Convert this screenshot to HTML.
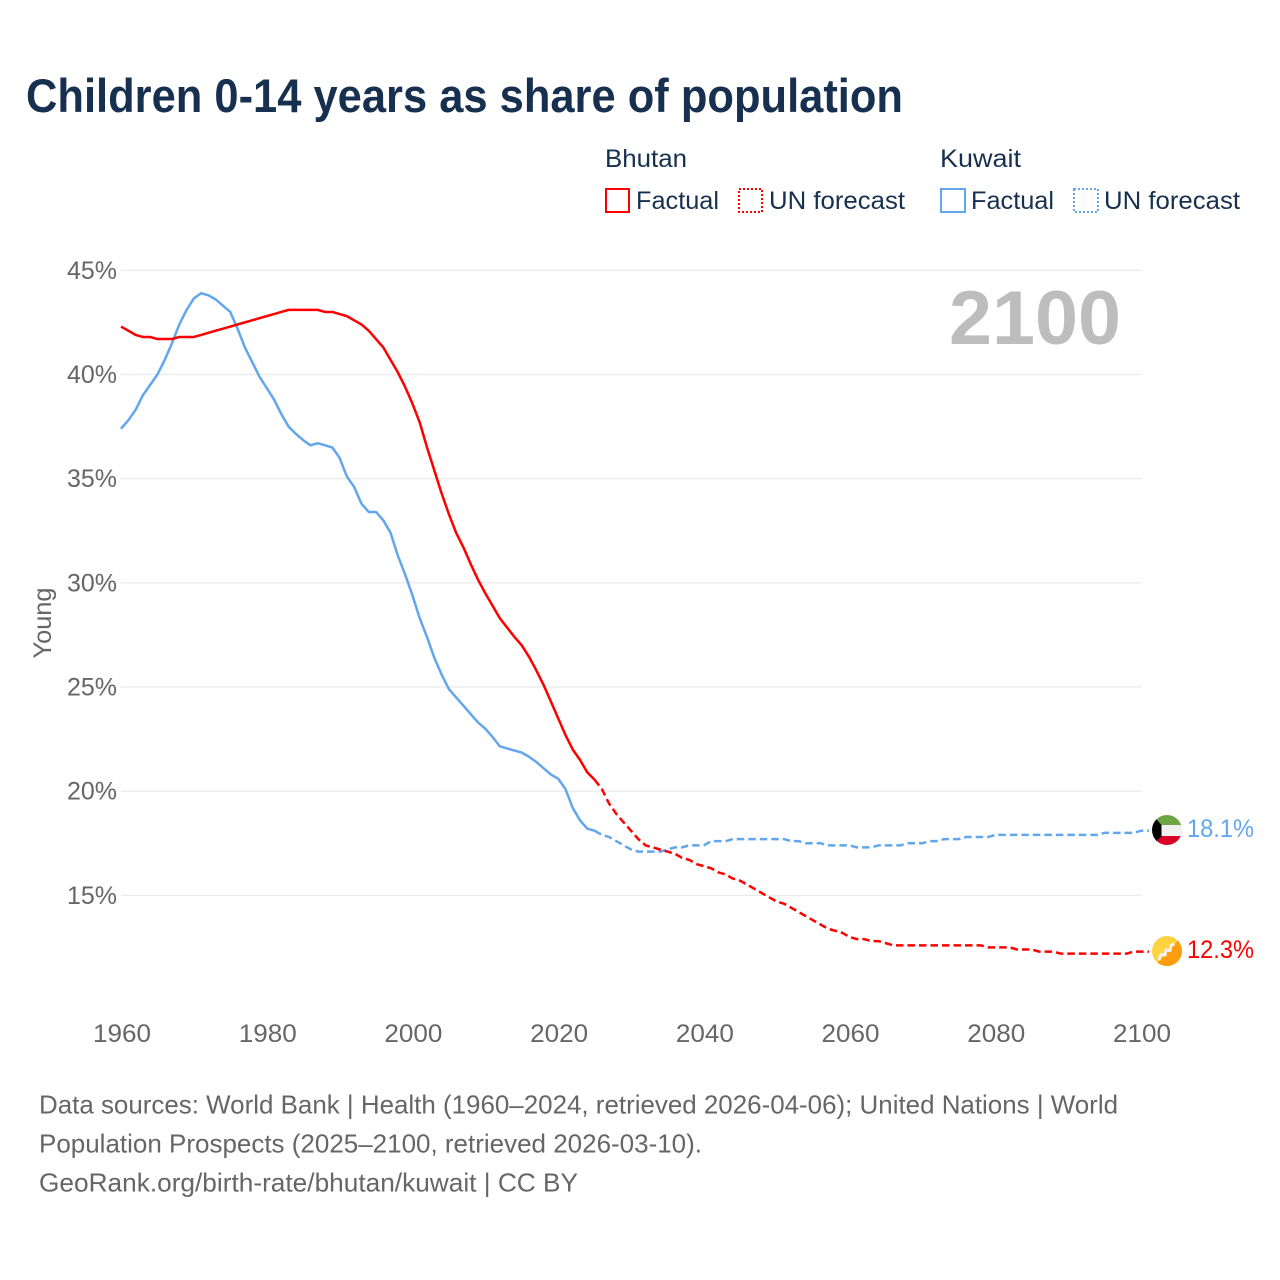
<!DOCTYPE html>
<html>
<head>
<meta charset="utf-8">
<title>Children 0-14 years as share of population</title>
<style>
html,body{margin:0;padding:0;background:#fff;width:1280px;height:1280px;overflow:hidden}
svg{display:block}
text{font-family:"Liberation Sans",sans-serif}
.leg{font-size:25px;fill:#17304f}
.tick{font-size:25px;fill:#666}
.foot{font-size:26px;fill:#666}
</style>
</head>
<body>
<svg id="chart" width="1280" height="1280" viewBox="0 0 1280 1280" xmlns="http://www.w3.org/2000/svg">
  <text x="26" y="112" font-size="47" font-weight="700" fill="#17304f" textLength="877" lengthAdjust="spacingAndGlyphs">Children 0-14 years as share of population</text>

  <g>
    <text class="leg" x="605" y="167" textLength="82" lengthAdjust="spacingAndGlyphs">Bhutan</text>
    <rect x="606" y="189" width="23" height="23" fill="none" stroke="#ff0000" stroke-width="2"/>
    <text class="leg" x="636" y="209" textLength="83" lengthAdjust="spacingAndGlyphs">Factual</text>
    <rect x="739" y="189" width="23" height="23" fill="none" stroke="#ff0000" stroke-width="2" stroke-dasharray="2 2"/>
    <text class="leg" x="769" y="209" textLength="136" lengthAdjust="spacingAndGlyphs">UN forecast</text>

    <text class="leg" x="940" y="167" textLength="81" lengthAdjust="spacingAndGlyphs">Kuwait</text>
    <rect x="941" y="189" width="24" height="23" fill="none" stroke="#62a6ee" stroke-width="2"/>
    <text class="leg" x="971" y="209" textLength="83" lengthAdjust="spacingAndGlyphs">Factual</text>
    <rect x="1074" y="189" width="24" height="23" fill="none" stroke="#62a6ee" stroke-width="2" stroke-dasharray="2 2"/>
    <text class="leg" x="1104" y="209" textLength="136" lengthAdjust="spacingAndGlyphs">UN forecast</text>
  </g>

  <g id="grid"></g>
  <g id="yticks"></g>
  <g id="xticks"></g>

  <text x="0" y="0" transform="translate(51 623) rotate(-90)" text-anchor="middle" font-size="25" fill="#666" textLength="71" lengthAdjust="spacingAndGlyphs">Young</text>
  <text x="949" y="344" font-size="76" font-weight="700" fill="#bdbdbd" textLength="172" lengthAdjust="spacingAndGlyphs">2100</text>

  <g id="series"></g>

  <defs>
    <clipPath id="clip-kw"><circle cx="1167" cy="830" r="15"/></clipPath>
    <clipPath id="clip-bt"><circle cx="1167" cy="951" r="15"/></clipPath>
  </defs>
  <g clip-path="url(#clip-kw)">
    <rect x="1150" y="813" width="34" height="12" fill="#6da544"/>
    <rect x="1150" y="825" width="34" height="11" fill="#f0f0f0"/>
    <rect x="1150" y="836" width="34" height="11" fill="#d80027"/>
    <polygon points="1150,812 1161.5,825 1161.5,836 1150,848" fill="#000"/>
  </g>
  <g clip-path="url(#clip-bt)">
    <rect x="1150" y="934" width="34" height="34" fill="#ffd23f"/>
    <polygon points="1184,934 1184,968 1150,968 1150,966 1158,962" fill="#ff9d11"/>
    <polyline points="1159,960 1161,954.5 1165,955 1166,950 1170,950.5 1171,945.5 1174.5,944" fill="none" stroke="#f0f0f0" stroke-width="3"/>
  </g>

  <text x="1187" y="837" font-size="25" fill="#62a6ee" textLength="67" lengthAdjust="spacingAndGlyphs">18.1%</text>
  <text x="1187" y="958" font-size="25" fill="#ff0000" textLength="67" lengthAdjust="spacingAndGlyphs">12.3%</text>

  <g>
    <text class="foot" x="39" y="1113.5" textLength="1079" lengthAdjust="spacingAndGlyphs">Data sources: World Bank | Health (1960–2024, retrieved 2026-04-06); United Nations | World</text>
    <text class="foot" x="39" y="1152.5" textLength="663" lengthAdjust="spacingAndGlyphs">Population Prospects (2025–2100, retrieved 2026-03-10).</text>
    <text class="foot" x="39" y="1191.5" textLength="539" lengthAdjust="spacingAndGlyphs">GeoRank.org/birth-rate/bhutan/kuwait | CC BY</text>
  </g>
</svg>

<script>
var startYear = 1960;
var lastFactualYear = 2025;
var xTickYears = [1960, 1980, 2000, 2020, 2040, 2060, 2080, 2100];
var yTickValues = [45, 40, 35, 30, 25, 20, 15];

var bhutan = [
  42.3, 42.1, 41.9, 41.8, 41.8, 41.7, 41.7, 41.7, 41.8, 41.8,
  41.8, 41.9, 42.0, 42.1, 42.2, 42.3, 42.4, 42.5, 42.6, 42.7,
  42.8, 42.9, 43.0, 43.1, 43.1, 43.1, 43.1, 43.1, 43.0, 43.0,
  42.9, 42.8, 42.6, 42.4, 42.1, 41.7, 41.3, 40.7, 40.1, 39.4,
  38.6, 37.7, 36.5, 35.4, 34.3, 33.3, 32.4, 31.7, 30.9, 30.15,
  29.5, 28.9, 28.3, 27.85, 27.4, 27.0, 26.45, 25.8, 25.1, 24.3,
  23.5, 22.7, 22.0, 21.5, 20.9, 20.55,
  20.1, 19.4, 18.9, 18.5, 18.1, 17.7, 17.4, 17.3, 17.2, 17.1,
  17.0, 16.8, 16.7, 16.5, 16.4, 16.3, 16.1, 16.0, 15.8, 15.7,
  15.5, 15.3, 15.1, 14.9, 14.7, 14.6, 14.4, 14.2, 14.0, 13.8,
  13.6, 13.4, 13.3, 13.2, 13.0, 12.9, 12.9, 12.8, 12.8, 12.7,
  12.6, 12.6, 12.6, 12.6, 12.6, 12.6, 12.6, 12.6, 12.6, 12.6,
  12.6, 12.6, 12.6, 12.5, 12.5, 12.5, 12.5, 12.4, 12.4, 12.4,
  12.3, 12.3, 12.3, 12.2, 12.2, 12.2, 12.2, 12.2, 12.2, 12.2,
  12.2, 12.2, 12.2, 12.3, 12.3
];

var kuwait = [
  37.4, 37.8, 38.3, 39.0, 39.5, 40.0, 40.7, 41.5, 42.4, 43.1,
  43.65, 43.9, 43.8, 43.6, 43.3, 43.0, 42.2, 41.3, 40.6, 39.9,
  39.35, 38.8, 38.1, 37.5, 37.15, 36.85, 36.6, 36.7, 36.6, 36.5,
  36.0, 35.1, 34.6, 33.8, 33.4, 33.4, 33.0, 32.4, 31.3, 30.4,
  29.4, 28.3, 27.4, 26.4, 25.6, 24.9, 24.5, 24.1, 23.7, 23.3,
  23.0, 22.6, 22.15, 22.05, 21.95, 21.85, 21.65, 21.4, 21.1, 20.8,
  20.6, 20.1, 19.2, 18.6, 18.2, 18.1,
  17.9, 17.8, 17.6, 17.4, 17.2, 17.1, 17.1, 17.1, 17.1, 17.2,
  17.3, 17.3, 17.4, 17.4, 17.4, 17.6, 17.6, 17.6, 17.7, 17.7,
  17.7, 17.7, 17.7, 17.7, 17.7, 17.7, 17.6, 17.6, 17.5, 17.5,
  17.5, 17.4, 17.4, 17.4, 17.4, 17.3, 17.3, 17.3, 17.4, 17.4,
  17.4, 17.4, 17.5, 17.5, 17.5, 17.6, 17.6, 17.7, 17.7, 17.7,
  17.8, 17.8, 17.8, 17.8, 17.9, 17.9, 17.9, 17.9, 17.9, 17.9,
  17.9, 17.9, 17.9, 17.9, 17.9, 17.9, 17.9, 17.9, 17.9, 18.0,
  18.0, 18.0, 18.0, 18.0, 18.1
];

var NS = 'http://www.w3.org/2000/svg';

function xScale(year) {
  return 121 + (year - 1960) * (1020 / 140);
}
function yScale(value) {
  return 270.3 + (45 - value) * (104.17 / 5);
}
function make(tag, attrs, parent) {
  var el = document.createElementNS(NS, tag);
  for (var k in attrs) {
    el.setAttribute(k, attrs[k]);
  }
  parent.appendChild(el);
  return el;
}
function points(values, fromIndex, toIndex) {
  var out = [];
  for (var i = fromIndex; i <= toIndex && i < values.length; i++) {
    out.push(xScale(startYear + i).toFixed(2) + ',' + yScale(values[i]).toFixed(2));
  }
  return out;
}

var gridGroup = document.getElementById('grid');
var yTickGroup = document.getElementById('yticks');
var xTickGroup = document.getElementById('xticks');
var seriesGroup = document.getElementById('series');

yTickValues.forEach(function (v) {
  var line = make('line', {x1: 120.7, x2: 1141.7, y1: yScale(v), y2: yScale(v), stroke: '#ececec', 'stroke-width': 1.4}, gridGroup);
  
  
  var label = make('text', {x: 117, y: yScale(v) + 8.5, 'text-anchor': 'end', 'class': 'tick'}, yTickGroup);
  
  
  label.textContent = v + '%';
});

xTickYears.forEach(function (yr) {
  var label = make('text', {x: xScale(yr) + 1, y: 1042, 'text-anchor': 'middle', 'class': 'tick', textLength: 58, lengthAdjust: 'spacingAndGlyphs'}, xTickGroup);
  
  
  label.textContent = yr;
});

function drawSeries(name, values, color) {
  var split = lastFactualYear - startYear;
  var solid = make('polyline', {points: points(values, 0, split).join(' '), fill: 'none', stroke: color, 'stroke-width': 2.5, 'stroke-linejoin': 'round'}, seriesGroup);
  
  
  var fc = points(values, split, values.length - 1);
  var endX = xScale(startYear + values.length - 1) + 8;
  var endY = yScale(values[values.length - 1]);
  fc.push(endX.toFixed(2) + ',' + endY.toFixed(2));
  var dashed = make('polyline', {points: fc.join(' '), fill: 'none', stroke: color, 'stroke-width': 2.5, 'stroke-dasharray': '7.5 4'}, seriesGroup);
  
  
}

drawSeries('kuwait', kuwait, '#62a6ee');
drawSeries('bhutan', bhutan, '#ff0000');
</script>
</body>
</html>
